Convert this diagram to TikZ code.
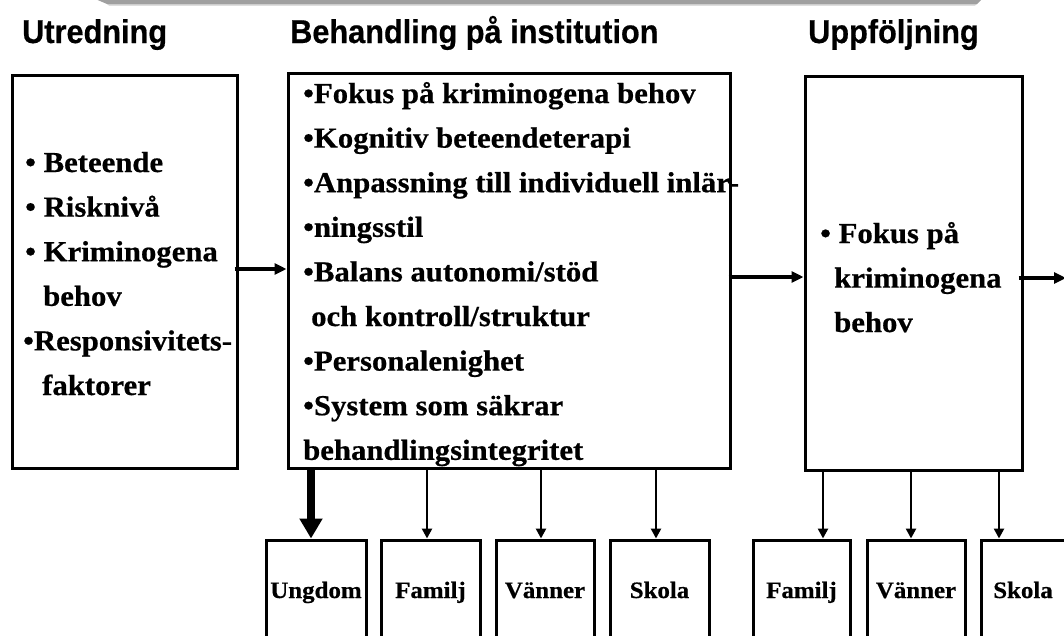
\documentclass[tikz,border=0pt]{standalone}
\usepackage{fontspec}
\usetikzlibrary{arrows.meta}
\newfontfamily\tnr[FakeStretch=1.06,FakeBold=0.6]{Liberation Serif}
\newfontfamily\ari[FakeStretch=0.93,FakeBold=0.5]{Liberation Sans}
\definecolor{bargray}{RGB}{160,160,160}
\definecolor{barlight}{RGB}{205,205,205}
\tikzset{
  box/.style={draw, line width=3pt, inner sep=0pt},
  txt/.style={anchor=base west, inner sep=0pt, font=\tnr\bfseries\fontsize{29}{33}\selectfont},
  head/.style={anchor=base west, inner sep=0pt, font=\ari\bfseries\fontsize{33}{37}\selectfont},
  lbl/.style={anchor=base, inner sep=0pt, font=\tnr\bfseries\fontsize{23.5}{27}\selectfont},
  arr/.style={line width=3.2pt, -{Triangle[length=12pt,width=11pt]}},
  darr/.style={line width=2.7pt, -{Triangle[length=10pt,width=10pt]}},
  bigarr/.style={line width=8pt, -{Triangle[length=20pt,width=22pt]}},
}
\begin{document}
\begin{tikzpicture}[x=1pt,y=-1pt]
\useasboundingbox (0,0) rectangle (1064,635);
\clip (0,0) rectangle (1064,635);
% top grey bar
\fill[bargray] (93,-2) -- (983,-2) -- (977,4) -- (107,4) -- cycle;
\fill[barlight] (107,4) -- (977,4) -- (975,5.5) -- (109,5.5) -- cycle;
% headings
\node[head] (h1) at (22,43) {Utredning};
\node[head] (h2) at (290,43) {Behandling på institution};
\node[head] (h3) at (808,43) {Uppföljning};
% main boxes
\node[box, minimum width=225pt, minimum height=393pt] (L) at (124.5,271.5) {};
\node[box, minimum width=442pt, minimum height=395pt] (M) at (509,270.5) {};
\node[box, minimum width=217pt, minimum height=394pt] (R) at (913.5,273) {};
% left texts
\node[txt] (l1) at (25,172) {• Beteende};
\node[txt] (l2) at (25,216.6) {• Risknivå};
\node[txt] (l3) at (25,261.2) {• Kriminogena};
\node[txt] (l4) at (43,305.8) {behov};
\node[txt] (l5) at (23,350.4) {•Responsivitets-};
\node[txt] (l6) at (42,395) {faktorer};
% middle texts
\node[txt] (m1) at (303,103) {•Fokus på kriminogena behov};
\node[txt] (m2) at (303,147.6) {•Kognitiv beteendeterapi};
\node[txt] (m3) at (303,192.2) {•Anpassning till individuell inlär-};
\node[txt] (m4) at (303,236.8) {•ningsstil};
\node[txt] (m5) at (303,281.4) {•Balans autonomi/stöd};
\node[txt] (m6) at (311,326) {och kontroll/struktur};
\node[txt] (m7) at (303,370.6) {•Personalenighet};
\node[txt] (m8) at (303,415.2) {•System som säkrar};
\node[txt] (m9) at (303,459.8) {behandlingsintegritet};
% right texts
\node[txt] (r1) at (820,243) {• Fokus på};
\node[txt] (r2) at (834,287.6) {kriminogena};
\node[txt] (r3) at (834,332) {behov};
% bottom boxes
\node[box, minimum width=100pt, minimum height=120pt] (U) at (316,600) {};
\node[box, minimum width=99pt, minimum height=120pt] (F1) at (430.5,600) {};
\node[box, minimum width=98pt, minimum height=120pt] (V1) at (545,600) {};
\node[box, minimum width=99pt, minimum height=120pt] (S1) at (659.5,600) {};
\node[box, minimum width=97pt, minimum height=120pt] (F2) at (801.5,600) {};
\node[box, minimum width=98pt, minimum height=120pt] (V2) at (916,600) {};
\node[box, minimum width=98pt, minimum height=120pt] (S2) at (1030,600) {};
\node[lbl] (tU) at (316,598) {Ungdom};
\node[lbl] (tF1) at (430.5,598) {Familj};
\node[lbl] (tV1) at (545,598) {Vänner};
\node[lbl] (tS1) at (659.5,598) {Skola};
\node[lbl] (tF2) at (801.5,598) {Familj};
\node[lbl] (tV2) at (916,598) {Vänner};
\node[lbl] (tS2) at (1023,598) {Skola};
% horizontal connectors
\coordinate (y1) at (0,269);
\coordinate (y2) at (0,277);
\coordinate (y3) at (0,278);
\coordinate (off) at (1066,278);
\draw[arr] ([xshift=-4pt]L.east |- y1) -- (M.west |- y1);
\draw[arr] ([xshift=-3pt]M.east |- y2) -- (R.west |- y2);
\draw[arr] ([xshift=-5pt]R.east |- y3) -- (off);
% down connectors
\coordinate (cU) at ([xshift=-5pt]U.north);
\coordinate (cF1) at ([xshift=-3.5pt]F1.north);
\coordinate (cV1) at ([xshift=-4pt]V1.north);
\coordinate (cS1) at ([xshift=-3.5pt]S1.north);
\coordinate (cF2) at ([xshift=21.5pt]F2.north);
\coordinate (cV2) at ([xshift=-5pt]V2.north);
\coordinate (cS2) at ([xshift=-31pt]S2.north);
\draw[bigarr] (M.south -| cU) -- (cU);
\draw[darr] (M.south -| cF1) -- (cF1);
\draw[darr] (M.south -| cV1) -- (cV1);
\draw[darr] (M.south -| cS1) -- (cS1);
\draw[darr] (R.south -| cF2) -- (cF2);
\draw[darr] (R.south -| cV2) -- (cV2);
\draw[darr] (R.south -| cS2) -- (cS2);
\end{tikzpicture}
\end{document}
